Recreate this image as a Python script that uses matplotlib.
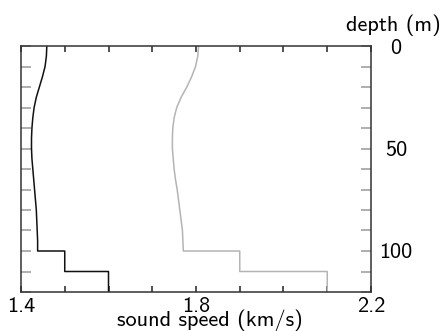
import numpy as np
import matplotlib
matplotlib.use("Agg")
from matplotlib import pyplot as plt
from matplotlib.ticker import MultipleLocator, FixedLocator

# depth (m) for the smooth upper part of the profiles
depth = [0, 5, 10, 15, 20, 25, 30, 35, 40, 45, 50,
         55, 60, 65, 70, 75, 80, 85, 90, 95, 100]
# sound speed (km/s)
speed_black = [1.459, 1.458, 1.455, 1.449, 1.442, 1.435, 1.430, 1.427, 1.425, 1.424, 1.424,
               1.425, 1.427, 1.429, 1.431, 1.433, 1.435, 1.436, 1.437, 1.438, 1.438]
speed_gray = [1.806, 1.804, 1.799, 1.790, 1.779, 1.766, 1.756, 1.750, 1.747, 1.746, 1.746,
              1.748, 1.750, 1.753, 1.757, 1.760, 1.763, 1.766, 1.769, 1.770, 1.771]
# bottom layers: boundaries and speeds
layer_depth = [100, 110, 120]
layer_black = [1.5, 1.6]
layer_gray = [1.9, 2.1]

x_labels = ["1.4", "1.8", "2.2"]
y_labels = ["0", "50", "100"]


def with_layers(c, layers):
    xs = list(c)
    ys = list(depth)
    for i in range(len(layers)):
        xs += [layers[i], layers[i]]
        ys += [layer_depth[i], layer_depth[i+1]]
    return xs, ys


plt.rcParams['font.family'] = ['cmss10', 'DejaVu Sans']
plt.rcParams['font.size'] = 16

fig = plt.figure(figsize=(4.43, 3.31), dpi=100)
ax = fig.add_axes([21/443, 1-292/331, 350/443, 246/331])

xb, yb = with_layers(speed_black, layer_black)
xg, yg = with_layers(speed_gray, layer_gray)
ax.plot(xb, yb, color='#111111', lw=1.1)
ax.plot(xg, yg, color='#b4b4b4', lw=1.1)

ax.set_xlim(1.4, 2.2)
ax.set_ylim(120, 0)

for s in ax.spines.values():
    s.set_color('#333333')
    s.set_linewidth(1.1)

ax.xaxis.set_major_locator(FixedLocator([1.4, 1.8, 2.2]))
ax.set_xticklabels(x_labels)
ax.xaxis.set_minor_locator(MultipleLocator(0.1))
ax.yaxis.set_major_locator(FixedLocator([0, 50, 100]))
ax.set_yticklabels(y_labels)
ax.yaxis.set_minor_locator(MultipleLocator(10))

ax.tick_params(axis='x', which='both', direction='in', top=True, bottom=True,
               length=4.5, width=1.1, color='#222222', pad=3.8)
ax.tick_params(axis='y', which='both', direction='in', left=True, right=True,
               labelleft=False, labelright=True, length=7, width=1.1,
               color='#999999', pad=18)
for lab in ax.get_yticklabels():
    lab.set_horizontalalignment('center')

ax.set_xlabel("sound speed (km/s)")
ax.xaxis.label.set_va('baseline')
ax.xaxis.set_label_coords(0.54, -0.137)

ax.set_ylabel("depth (m)", rotation=0)
ax.yaxis.set_label_position('right')
ax.yaxis.label.set_ha('center')
ax.yaxis.label.set_va('baseline')
ax.yaxis.set_label_coords(1.063, 1.061)

fig.savefig("out.png", dpi=100)
